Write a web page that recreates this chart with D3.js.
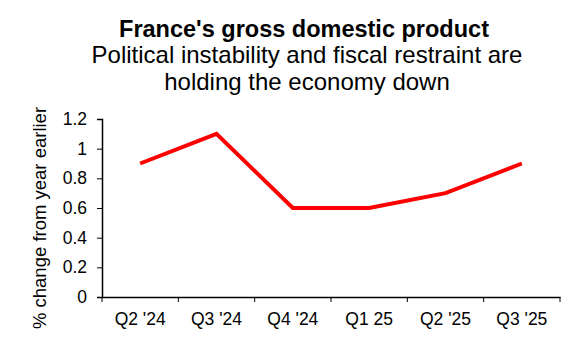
<!DOCTYPE html>
<html>
<head>
<meta charset="utf-8">
<script src="https://cdn.jsdelivr.net/npm/d3@7"></script>
<style>
  body { margin: 0; background: #fff; }
  text { font-family: Arial, "Liberation Sans", sans-serif; }
</style>
</head>
<body>
<svg id="chart" width="580" height="360"></svg>
<script>
// chart data
const quarters = ["Q2 '24", "Q3 '24", "Q4 '24", "Q1 25", "Q2 '25", "Q3 '25"];
const gdpGrowth = [0.9, 1.1, 0.6, 0.6, 0.7, 0.9];
const yTicks = [0, 0.2, 0.4, 0.6, 0.8, 1, 1.2];

const svg = d3.select("#chart");
const margin = { left: 102, right: 20, top: 119, bottom: 63 };
const width = 580 - margin.left - margin.right;
const height = 360 - margin.top - margin.bottom;

// titles
svg.append("text")
  .attr("x", 304).attr("y", 37)
  .attr("text-anchor", "middle")
  .style("font-size", "23.5px").style("font-weight", "bold")
  .text("France's gross domestic product");
svg.append("text")
  .attr("x", 307).attr("y", 63)
  .attr("text-anchor", "middle")
  .style("font-size", "24px")
  .text("Political instability and fiscal restraint are");
svg.append("text")
  .attr("x", 307).attr("y", 90)
  .attr("text-anchor", "middle")
  .style("font-size", "24px")
  .text("holding the economy down");

const g = svg.append("g")
  .attr("transform", "translate(" + margin.left + "," + margin.top + ")");

// scales
const x = d3.scaleBand()
  .domain(quarters)
  .range([0, width]);

const y = d3.scaleLinear()
  .domain([0, 1.2])
  .range([height, 0]);

// y axis
const yAxis = g.append("g")
  .call(d3.axisLeft(y).tickValues(yTicks).tickSize(5).tickPadding(10).tickFormat(d => d3.format("")(+d.toFixed(1))));
yAxis.selectAll("text").style("font-size", "17.5px").attr("fill", "#000");

// x axis
const xAxis = g.append("g")
  .attr("transform", "translate(0," + height + ")")
  .call(d3.axisBottom(x).tickSize(0).tickPadding(16));
xAxis.selectAll("text").style("font-size", "17.5px").attr("fill", "#000");
// ticks on band edges
xAxis.selectAll(".edge")
  .data(d3.range(quarters.length + 1))
  .enter()
  .append("line")
  .attr("x1", i => i * x.step()).attr("x2", i => i * x.step())
  .attr("y1", 0).attr("y2", 5)
  .attr("stroke", "#000");

svg.selectAll(".domain").attr("stroke", "#000").attr("stroke-width", 1.5);
svg.selectAll(".tick line").attr("stroke", "#000");

// y axis title
svg.append("text")
  .attr("transform", "translate(46," + (margin.top + height / 2 + 10) + ") rotate(-90)")
  .attr("text-anchor", "middle")
  .style("font-size", "18.5px")
  .text("% change from year earlier");

// the line
const line = d3.line()
  .x((d, i) => x(quarters[i]) + x.bandwidth() / 2)
  .y(d => y(d));

g.append("path")
  .datum(gdpGrowth)
  .attr("fill", "none")
  .attr("stroke", "#ff0000")
  .attr("stroke-width", 4)
  .attr("d", line);
</script>
</body>
</html>
